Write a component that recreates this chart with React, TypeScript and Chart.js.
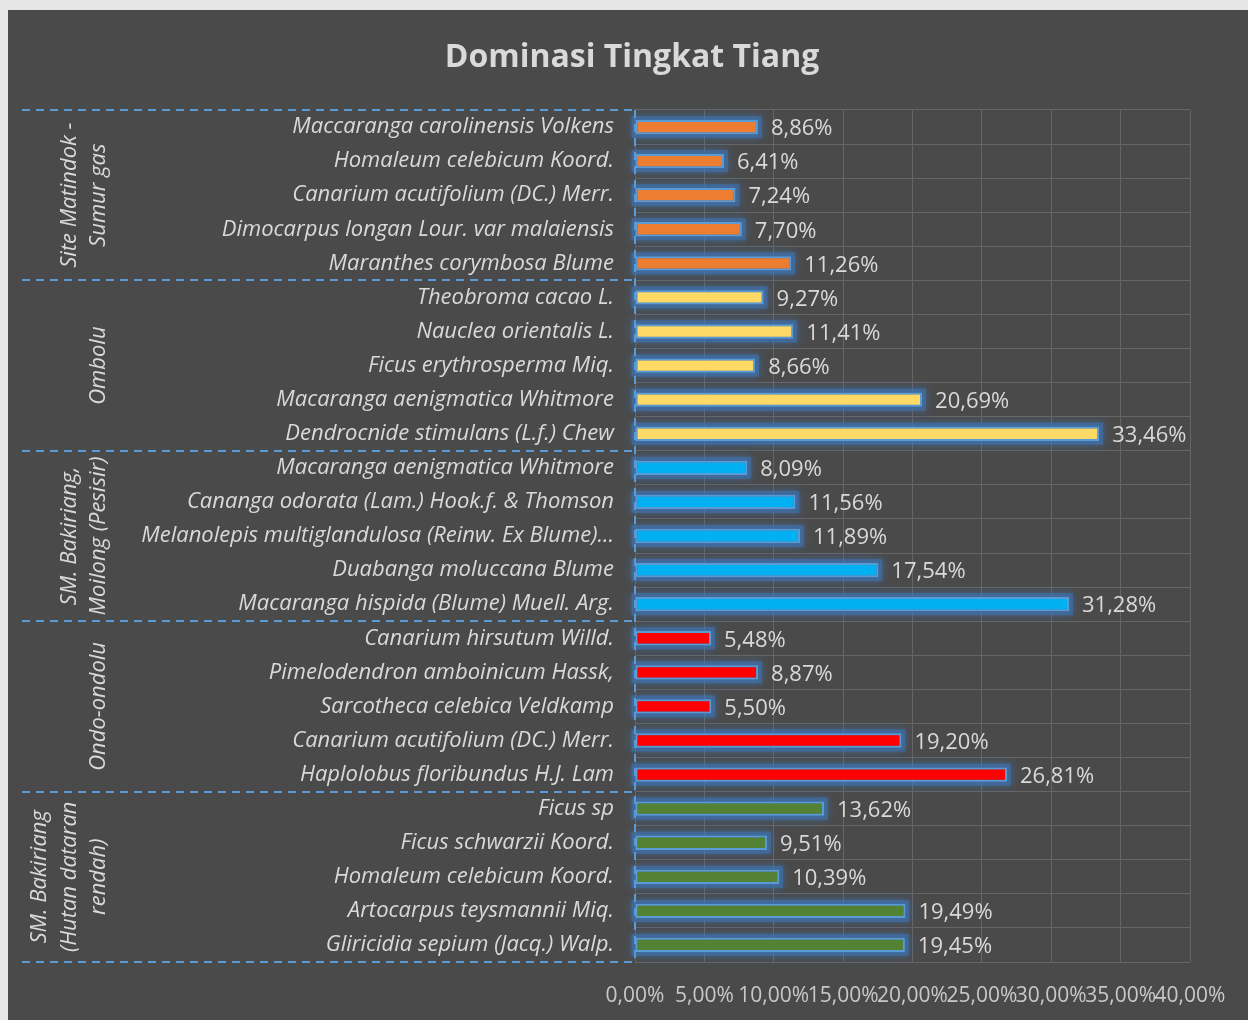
import React, { useEffect, useRef } from "react";
import { Chart, registerables } from "chart.js";

Chart.register(...registerables);

const categories: string[] = [
  "Maccaranga carolinensis Volkens",
  "Homaleum celebicum Koord.",
  "Canarium acutifolium (DC.) Merr.",
  "Dimocarpus longan Lour. var malaiensis",
  "Maranthes corymbosa Blume",
  "Theobroma cacao L.",
  "Nauclea orientalis L.",
  "Ficus erythrosperma Miq.",
  "Macaranga aenigmatica Whitmore",
  "Dendrocnide stimulans (L.f.) Chew",
  "Macaranga aenigmatica Whitmore",
  "Cananga odorata (Lam.) Hook.f. & Thomson",
  "Melanolepis multiglandulosa (Reinw. Ex Blume)...",
  "Duabanga moluccana Blume",
  "Macaranga hispida (Blume) Muell. Arg.",
  "Canarium hirsutum Willd.",
  "Pimelodendron amboinicum Hassk,",
  "Sarcotheca celebica Veldkamp",
  "Canarium acutifolium (DC.) Merr.",
  "Haplolobus floribundus H.J. Lam",
  "Ficus sp",
  "Ficus schwarzii Koord.",
  "Homaleum celebicum Koord.",
  "Artocarpus teysmannii Miq.",
  "Gliricidia sepium (Jacq.) Walp.",
];

const values: number[] = [
  8.86, 6.41, 7.24, 7.7, 11.26,
  9.27, 11.41, 8.66, 20.69, 33.46,
  8.09, 11.56, 11.89, 17.54, 31.28,
  5.48, 8.87, 5.5, 19.2, 26.81,
  13.62, 9.51, 10.39, 19.49, 19.45,
];

const groupLabels: string[][] = [
  ["Site Matindok -", "Sumur gas"],
  ["Ombolu"],
  ["SM. Bakiriang,", "Moilong (Pesisir)"],
  ["Ondo-ondolu"],
  ["SM. Bakiriang", "(Hutan dataran", "rendah)"],
];

const groupSizes: number[] = [5, 5, 5, 5, 5];
const groupColors: string[] = ["#ED7D31", "#FFD966", "#00B0F0", "#FF0000", "#548235"];

const xTicks: number[] = [0, 5, 10, 15, 20, 25, 30, 35, 40];

const TEXT = "#d9d9d9";
const FONT = "'Open Sans', Lato, sans-serif";

const fmt = (v: number) => v.toFixed(2).replace(".", ",") + "%";

const barColors: string[] = [];
groupSizes.forEach((n, g) => {
  for (let i = 0; i < n; i++) barColors.push(groupColors[g]);
});

export default function App() {
  const ref = useRef<HTMLCanvasElement | null>(null);

  useEffect(() => {
    if (!ref.current) return;

    const glowPlugin = {
      id: "glow",
      beforeDatasetsDraw(chart: any) {
        const ctx = chart.ctx;
        const meta = chart.getDatasetMeta(0);
        ctx.save();
        ctx.shadowColor = "rgba(60,130,215,0.9)";
        ctx.shadowBlur = 9;
        ctx.fillStyle = "rgba(60,120,190,0.5)";
        meta.data.forEach((bar: any) => {
          const p = bar.getProps(["x", "y", "base", "height"], true);
          const l = Math.min(p.x, p.base);
          const w = Math.abs(p.x - p.base);
          ctx.fillRect(l - 4, p.y - p.height / 2 - 4, w + 8, p.height + 8);
        });
        ctx.restore();
      },
    };

    const decorPlugin = {
      id: "decor",
      afterDraw(chart: any) {
        const ctx = chart.ctx;
        const area = chart.chartArea;
        const meta = chart.getDatasetMeta(0);
        // data labels
        ctx.save();
        ctx.fillStyle = TEXT;
        ctx.font = `22px ${FONT}`;
        ctx.textAlign = "left";
        ctx.textBaseline = "middle";
        meta.data.forEach((bar: any, i: number) => {
          ctx.fillText(fmt(values[i]), bar.x + 13, bar.y + 2);
        });
        ctx.restore();

        // title
        ctx.save();
        ctx.fillStyle = TEXT;
        ctx.font = `bold 32px ${FONT}`;
        ctx.textAlign = "center";
        ctx.textBaseline = "middle";
        ctx.fillText("Dominasi Tingkat Tiang", 624, 48);
        ctx.restore();

        // y axis dashed line
        ctx.save();
        ctx.strokeStyle = "#5B9BD5";
        ctx.lineWidth = 2;
        ctx.setLineDash([8, 6]);
        ctx.beginPath();
        ctx.moveTo(area.left, area.top);
        ctx.lineTo(area.left, area.bottom);
        ctx.stroke();

        // group separators
        const rowH = (area.bottom - area.top) / categories.length;
        let idx = 0;
        const bounds: number[] = [area.top];
        groupSizes.forEach((n) => {
          idx += n;
          bounds.push(area.top + rowH * idx);
        });
        bounds.forEach((y) => {
          ctx.beginPath();
          ctx.moveTo(14, Math.round(y));
          ctx.lineTo(area.left, Math.round(y));
          ctx.stroke();
        });
        ctx.restore();

        ctx.save();
        ctx.fillStyle = TEXT;
        ctx.font = `italic 22px ${FONT}`;
        ctx.textAlign = "center";
        ctx.textBaseline = "middle";
        groupLabels.forEach((lines, g) => {
          const cy = (bounds[g] + bounds[g + 1]) / 2;
          lines.forEach((line, li) => {
            const x = 91 - 29.5 * (lines.length - 1 - li);
            ctx.save();
            ctx.translate(x, cy);
            ctx.rotate(-Math.PI / 2);
            ctx.fillText(line, 0, 0);
            ctx.restore();
          });
        });
        ctx.restore();
      },
    };

    const chart = new Chart(ref.current, {
      type: "bar",
      data: {
        labels: categories,
        datasets: [
          {
            data: values,
            backgroundColor: barColors,
            borderColor: "#5B9BD5",
            borderWidth: 2,
            borderSkipped: false,
            categoryPercentage: 1,
            barPercentage: 0.42,
          },
        ],
      },
      options: {
        indexAxis: "y",
        responsive: false,
        animation: false,
        layout: { padding: { top: 100, right: 58, bottom: 0, left: 0 } },
        plugins: {
          legend: { display: false },
          tooltip: { enabled: false },
          title: { display: false },
        },
        scales: {
          x: {
            min: 0,
            max: 40,
            afterBuildTicks: (scale: any) => {
              scale.ticks = xTicks.map((v) => ({ value: v }));
            },
            afterFit: (scale: any) => {
              scale.height = 58;
            },
            grid: { color: "#666666", lineWidth: 1, drawTicks: false },
            border: { display: false },
            ticks: {
              autoSkip: false,
              maxRotation: 0,
              padding: 21,
              color: "#c8c8c8",
              font: { family: FONT, size: 21 },
              callback: (v: any) => fmt(Number(v)),
            },
          },
          y: {
            afterFit: (scale: any) => {
              scale.width = 627;
            },
            grid: { color: "#666666", lineWidth: 1, drawTicks: false, offset: true },
            border: { display: false },
            ticks: {
              autoSkip: false,
              padding: 21,
              color: TEXT,
              font: { family: FONT, size: 22, style: "italic" },
            },
          },
        },
      },
      plugins: [glowPlugin, decorPlugin],
    });

    return () => chart.destroy();
  }, []);

  return (
    <div
      style={{
        position: "absolute",
        left: 0,
        top: 0,
        width: 1248,
        height: 1020,
        background: "#e6e6e6",
        overflow: "hidden",
      }}
    >
      <canvas
        ref={ref}
        width={1240}
        height={1010}
        style={{ position: "absolute", left: 8, top: 10, width: 1240, height: 1010, background: "#4a4a4a", display: "block" }}
      />
    </div>
  );
}
